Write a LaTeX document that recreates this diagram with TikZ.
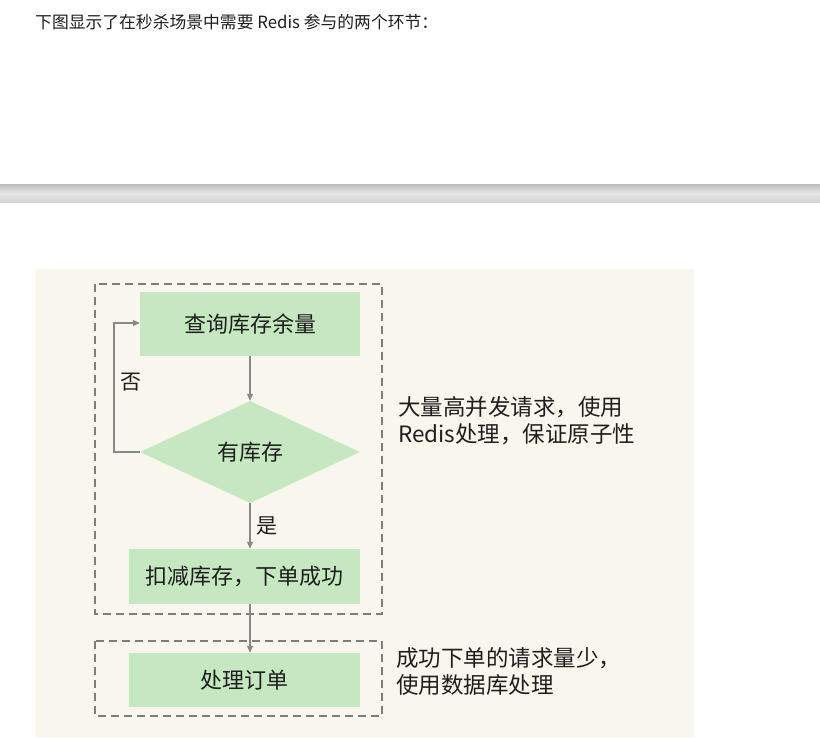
\documentclass[tikz,border=0pt]{standalone}
\usepackage{fontspec}
\setmainfont{Noto Sans CJK SC}
\usetikzlibrary{shapes.geometric,arrows.meta}
\definecolor{cream}{RGB}{249,247,237}
\definecolor{boxgreen}{RGB}{197,232,192}
\definecolor{dashgrey}{RGB}{125,125,125}
\definecolor{arrgrey}{RGB}{136,136,136}
\definecolor{txt}{RGB}{30,30,30}
\tikzset{
  stepbox/.style={fill=boxgreen,draw=none,inner sep=0pt,text=txt,font=\fontsize{22}{26}\selectfont},
  decide/.style={diamond,fill=boxgreen,draw=none,inner sep=0pt,aspect=2.16,minimum width=220pt,minimum height=102pt,text=txt,font=\fontsize{22}{26}\selectfont},
  groupbox/.style={draw=dashgrey,line width=2.9pt,dash pattern=on 8pt off 5pt},
  flow/.style={draw=arrgrey,line width=1.1pt,-{Triangle[length=7pt,width=6pt]}},
  note/.style={text=txt,font=\fontsize{22.5}{27}\selectfont,align=left,anchor=west,inner sep=0pt},
  lbl/.style={text=txt,font=\fontsize{21}{24}\selectfont,inner sep=0pt}
}
\begin{document}
\begin{tikzpicture}[x=1pt,y=-1pt]
\useasboundingbox (0,0) rectangle (820,737);
\fill[white] (0,0) rectangle (820,737);
% header
\node[anchor=west,inner sep=0pt,text=txt,font=\fontsize{16.8}{19}\selectfont] (head) at (35,22) {下图显示了在秒杀场景中需要 Redis 参与的两个环节：};
% grey separator bar
\shade[top color=black!26,bottom color=black!16,middle color=black!10] (0,184) rectangle (820,202);
% cream panel
\fill[cream] (35,269) rectangle (694,737);
% dashed group boxes
\draw[groupbox] (95,284) rectangle (382,614);
\draw[groupbox] (95,641) rectangle (382,716);
% nodes
\node[stepbox,minimum width=220pt,minimum height=64pt] (query) at (250,324) {查询库存余量};
\node[decide] (has) at (250,452) {有库存};
\node[stepbox,minimum width=231pt,minimum height=55pt] (deduct) at (244.5,576.5) {扣减库存，下单成功};
\node[stepbox,minimum width=231pt,minimum height=54pt] (order) at (244.5,680) {处理订单};
% connectors
\draw[flow] (query.south) -- (has.north);
\draw[flow] (has.south) -- (has.south |- deduct.north) node[lbl,midway,right=6pt] (yes) {是};
\draw[flow] (has.south |- deduct.south) -- (has.south |- order.north);
\coordinate (loopA) at (114,452);
\coordinate (loopB) at (114,323);
\draw[flow] (has.west) -- (loopA) -- (loopB) -- (query.west |- loopB);
\node[lbl] (no) at (131,382) {否};
% notes
\node[note] (note1) at (398,421) {大量高并发请求，使用\\Redis处理，保证原子性};
\node[note] (note2) at (396,671) {成功下单的请求量少，\\使用数据库处理};
\end{tikzpicture}
\end{document}
